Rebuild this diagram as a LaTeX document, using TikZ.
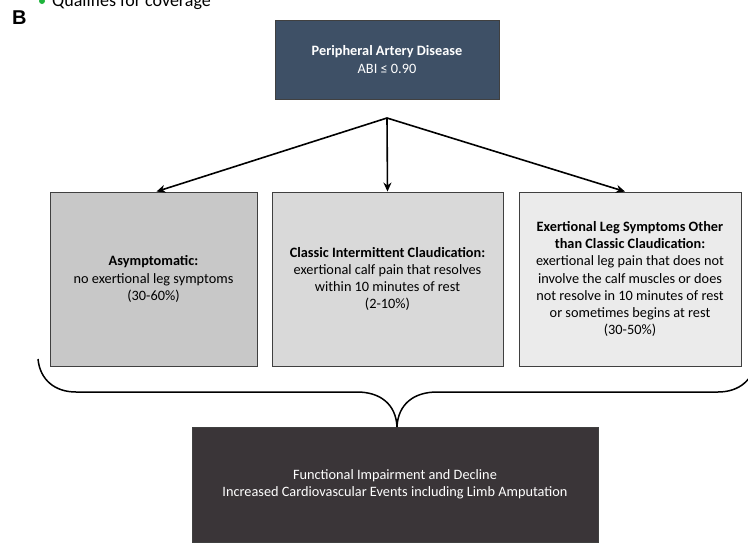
\documentclass[tikz,border=0pt]{standalone}
\usepackage{fontspec}
\setmainfont{Carlito}
\newfontfamily\labelfont{Liberation Sans}
\usetikzlibrary{arrows.meta}
\definecolor{padblue}{RGB}{62,80,102}
\definecolor{asymgray}{RGB}{200,200,200}
\definecolor{classicgray}{RGB}{217,217,217}
\definecolor{othergray}{RGB}{235,235,235}
\definecolor{outdark}{RGB}{58,53,56}
\definecolor{bulletgreen}{RGB}{30,180,60}
\begin{document}
\begin{tikzpicture}[x=1pt,y=-1pt,
  box/.style={draw=black!75, line width=0.9pt, align=center, inner sep=0pt,
    font=\fontsize{14.3}{17.3}\selectfont},
  arr/.style={-{Stealth[length=9pt,width=8pt]}, line width=1.6pt},
  brace/.style={line width=1.5pt}]
\useasboundingbox (0,0) rectangle (748,542);
\clip (0,0) rectangle (748,542);
% partial header
\fill[bulletgreen] (42,1) circle (3pt);
\node[anchor=base west, inner sep=0pt, font=\fontsize{18}{20}\selectfont] (cov) at (52,6) {Qualifies for coverage};
\node[anchor=north west, inner sep=0pt, font=\labelfont\bfseries\fontsize{20}{22}\selectfont] (lblB) at (12,11) {B};
% boxes
\node[box, fill=padblue, text=white, minimum width=224pt, minimum height=79pt] (pad) at (387,59.5)
  {\textbf{Peripheral Artery Disease}\\ABI ≤ 0.90};
\node[box, fill=asymgray, minimum width=207pt, minimum height=174pt] (asym) at (153.5,279)
  {\textbf{Asymptomatic:}\\no exertional leg symptoms\\(30-60\%)};
\node[box, fill=classicgray, minimum width=231pt, minimum height=174pt] (classic) at (387.5,279)
  {\textbf{Classic Intermittent Claudication:}\\exertional calf pain that resolves\\within 10 minutes of rest\\(2-10\%)};
\node[box, fill=othergray, minimum width=222pt, minimum height=174pt] (other) at (630,279)
  {\textbf{Exertional Leg Symptoms Other}\\\textbf{than Classic Claudication:}\\exertional leg pain that does not\\involve the calf muscles or does\\not resolve in 10 minutes of rest\\or sometimes begins at rest\\(30-50\%)};
\node[box, fill=outdark, text=white, minimum width=406pt, minimum height=115pt] (outcome) at (395,484.5)
  {Functional Impairment and Decline\\Increased Cardiovascular Events including Limb Amputation};
% arrows
\coordinate (hub) at (387,118);
\draw[arr] (hub) -- ([xshift=3pt]asym.north);
\draw[arr] (hub) -- (classic.north);
\draw[arr] (hub) -- ([xshift=-5pt]other.north);
% brace
\coordinate (bl) at (38,359);
\coordinate (br) at (756,359);
\coordinate (tip) at (397,427);
\draw[brace] (bl) .. controls (40,380) and (55,392) .. (76,392) -- (357,392)
  .. controls (380,392) and (396,404) .. (tip);
\draw[brace] (br) .. controls (754,380) and (739,392) .. (718,392) -- (437,392)
  .. controls (414,392) and (398,404) .. (tip);
\end{tikzpicture}
\end{document}
